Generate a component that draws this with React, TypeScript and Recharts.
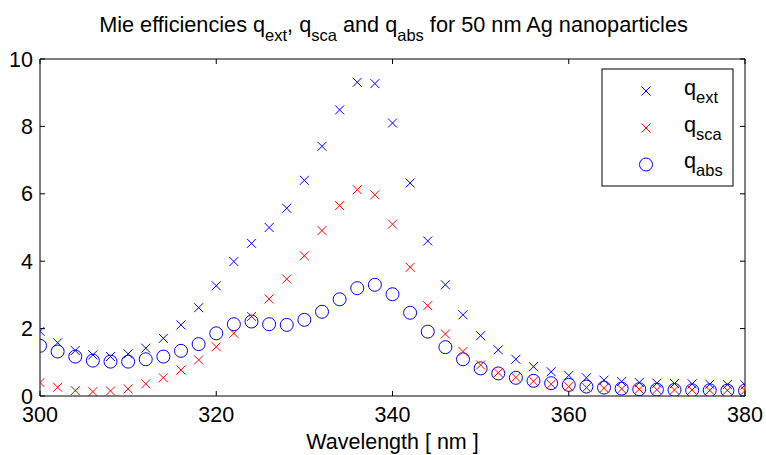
import React from 'react';
import { ScatterChart, Scatter, XAxis, YAxis, ReferenceLine } from 'recharts';

const wavelengths = [
  300, 302, 304, 306, 308, 310, 312, 314, 316, 318, 320, 322, 324, 326, 328, 330, 332, 334, 336, 338, 340,
  342, 344, 346, 348, 350, 352, 354, 356, 358, 360, 362, 364, 366, 368, 370, 372, 374, 376, 378, 380,
];
const qext = [
  1.92, 1.58, 1.35, 1.22, 1.17, 1.25, 1.42, 1.71, 2.11, 2.62, 3.27, 3.99, 4.53, 5.0, 5.57, 6.4, 7.41, 8.49, 9.31, 9.27, 8.1,
  6.32, 4.6, 3.3, 2.41, 1.79, 1.37, 1.09, 0.87, 0.72, 0.61, 0.54, 0.47, 0.43, 0.4, 0.38, 0.37, 0.36, 0.35, 0.34, 0.33,
];
const qsca = [
  0.4, 0.26, 0.16, 0.13, 0.15, 0.21, 0.36, 0.54, 0.77, 1.07, 1.46, 1.86, 2.36, 2.88, 3.47, 4.16, 4.91, 5.65, 6.12, 5.97, 5.1,
  3.82, 2.68, 1.84, 1.32, 0.92, 0.69, 0.55, 0.44, 0.35, 0.28, 0.25, 0.23, 0.21, 0.2, 0.19, 0.18, 0.18, 0.17, 0.17, 0.16,
];
const qabs = [
  1.49, 1.32, 1.17, 1.05, 1.02, 1.02, 1.09, 1.17, 1.34, 1.54, 1.86, 2.13, 2.21, 2.13, 2.11, 2.26, 2.5, 2.87, 3.2, 3.3, 3.02,
  2.47, 1.91, 1.45, 1.09, 0.82, 0.67, 0.54, 0.45, 0.38, 0.33, 0.28, 0.25, 0.22, 0.2, 0.19, 0.18, 0.17, 0.17, 0.16, 0.16,
];
const xTicks = [300, 320, 340, 360, 380];
const yTicks = [0, 2, 4, 6, 8, 10];
const xMin = 300;
const xMax = 380;
const yMin = 0;
const yMax = 10;
// inward tick lengths in data units (about 5 px)
const xTickLen = 0.57;
const yTickLen = 0.15;

const FONT = '"Liberation Sans", Arial, Helvetica, sans-serif';
const BLUE = '#0000ff';
const RED = '#ff0000';

const toPoints = (vals: number[]) => wavelengths.map((w, i) => ({ x: w, y: vals[i] }));
const extData = toPoints(qext);
const scaData = toPoints(qsca);
const absData = toPoints(qabs);

const makeCross = (color: string) => (props: any) => {
  const { cx, cy } = props;
  const s = 4.5;
  return (
    <g>
      <line x1={cx - s} y1={cy - s} x2={cx + s} y2={cy + s} stroke={color} strokeWidth={1} />
      <line x1={cx - s} y1={cy + s} x2={cx + s} y2={cy - s} stroke={color} strokeWidth={1} />
    </g>
  );
};
const makeCircle = (color: string) => (props: any) => {
  const { cx, cy } = props;
  return <circle cx={cx} cy={cy} r={6.5} fill="none" stroke={color} strokeWidth={1} />;
};

const tickStyle = { fill: '#000', fontSize: 21.5, fontFamily: FONT };
const seg = { stroke: '#000', strokeWidth: 1 };

export default function App() {
  return (
    <div style={{ position: 'absolute', left: 0, top: 0, width: 766, height: 455, background: '#fff' }}>
      <ScatterChart width={766} height={455} margin={{ top: 59, right: 21, left: 0, bottom: 0 }}>
        <XAxis
          dataKey="x"
          type="number"
          domain={[xMin, xMax]}
          ticks={xTicks}
          allowDataOverflow
          tickLine={false}
          tickSize={0}
          tickMargin={11}
          height={59}
          axisLine={seg}
          tick={tickStyle}
          label={{ value: 'Wavelength [ nm ]', position: 'insideBottom', offset: 6, fill: '#000', fontSize: 21.5, fontFamily: FONT }}
        />
        <YAxis
          dataKey="y"
          type="number"
          domain={[yMin, yMax]}
          ticks={yTicks}
          allowDataOverflow
          width={40}
          tickLine={false}
          tickSize={0}
          tickMargin={7}
          axisLine={seg}
          tick={tickStyle}
        />
        <ReferenceLine y={yMax} {...seg} ifOverflow="visible" />
        <ReferenceLine x={xMax} {...seg} ifOverflow="visible" />
        {xTicks.map((t) => (
          <ReferenceLine key={`xb${t}`} segment={[{ x: t, y: yMin }, { x: t, y: yMin + yTickLen }]} {...seg} ifOverflow="visible" />
        ))}
        {xTicks.map((t) => (
          <ReferenceLine key={`xt${t}`} segment={[{ x: t, y: yMax }, { x: t, y: yMax - yTickLen }]} {...seg} ifOverflow="visible" />
        ))}
        {yTicks.map((t) => (
          <ReferenceLine key={`yl${t}`} segment={[{ x: xMin, y: t }, { x: xMin + xTickLen, y: t }]} {...seg} ifOverflow="visible" />
        ))}
        {yTicks.map((t) => (
          <ReferenceLine key={`yr${t}`} segment={[{ x: xMax, y: t }, { x: xMax - xTickLen, y: t }]} {...seg} ifOverflow="visible" />
        ))}
        <Scatter name="qabs" data={absData} isAnimationActive={false} shape={makeCircle(BLUE)} />
        <Scatter name="qsca" data={scaData} isAnimationActive={false} shape={makeCross(RED)} />
        <Scatter name="qext" data={extData} isAnimationActive={false} shape={makeCross(BLUE)} />
      </ScatterChart>
      <svg
        width={766}
        height={455}
        style={{ position: 'absolute', left: 0, top: 0, pointerEvents: 'none' }}
        fontFamily={FONT}
      >
        <text x={393.5} y={32.3} textAnchor="middle" fontSize={21.7} fill="#000">
          <tspan>Mie efficiencies q</tspan>
          <tspan dy={8.4} fontSize={16.5}>ext</tspan>
          <tspan dy={-8.4}>, q</tspan>
          <tspan dy={8.4} fontSize={16.5}>sca</tspan>
          <tspan dy={-8.4}> and q</tspan>
          <tspan dy={8.4} fontSize={16.5}>abs</tspan>
          <tspan dy={-8.4}> for 50 nm Ag nanoparticles</tspan>
        </text>
        <rect x={602} y={69} width={131} height={117} fill="#fff" stroke="#000" strokeWidth={1} />
        {makeCross(BLUE)({ cx: 646, cy: 91 })}
        {makeCross(RED)({ cx: 646, cy: 128 })}
        {makeCircle(BLUE)({ cx: 646, cy: 164.5 })}
        <text x={684} y={95} fontSize={21.7} fill="#000">
          <tspan>q</tspan>
          <tspan dy={8.4} fontSize={16.5}>ext</tspan>
        </text>
        <text x={684} y={131.5} fontSize={21.7} fill="#000">
          <tspan>q</tspan>
          <tspan dy={8.4} fontSize={16.5}>sca</tspan>
        </text>
        <text x={684} y={168} fontSize={21.7} fill="#000">
          <tspan>q</tspan>
          <tspan dy={8.4} fontSize={16.5}>abs</tspan>
        </text>
      </svg>
    </div>
  );
}
